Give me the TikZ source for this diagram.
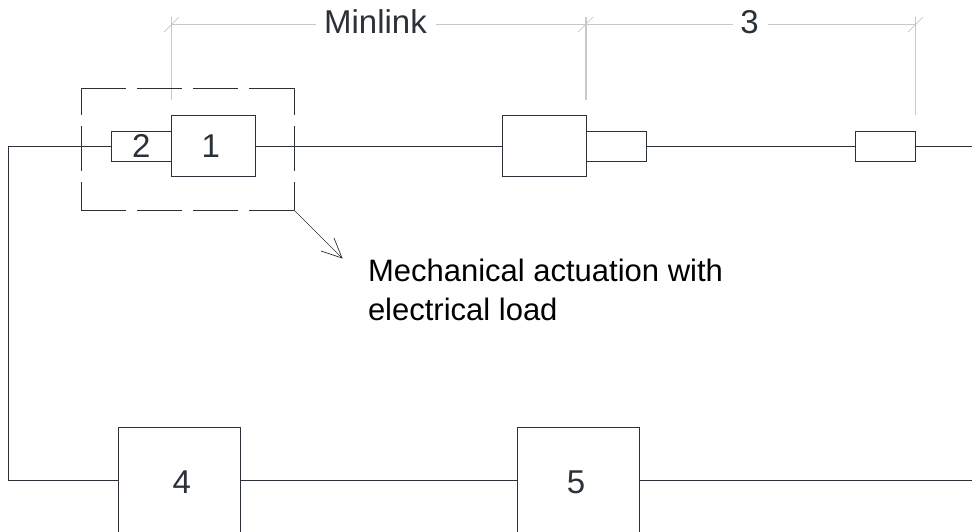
\documentclass[tikz,border=0pt]{standalone}
\usepackage{fontspec}
\setmainfont{Liberation Sans}
\definecolor{ink}{HTML}{2B3138}
\definecolor{dim}{HTML}{C8C8C8}
\tikzset{
  x=1pt,y=-1pt,
  box/.style={draw=ink,line width=1pt,fill=white,inner sep=0pt,outer sep=0pt,font=\fontsize{33}{38}\selectfont,text=ink},
  wire/.style={draw=ink,line width=1pt},
  dimline/.style={draw=dim,line width=1.1pt},
  lbl/.style={inner sep=0pt,outer sep=0pt,font=\fontsize{33}{38}\selectfont,text=ink},
  group/.style={draw=ink,line width=1pt,dash pattern=on 45pt off 11pt},
  groupv/.style={draw=ink,line width=1pt,dash pattern=on 45pt off 11pt,dash phase=18pt},
}
\begin{document}
\begin{tikzpicture}
\useasboundingbox (0,0) rectangle (972,531);
\clip (0,0) rectangle (972,531);
% named free ends
\coordinate (wireL) at (8.5,146);
\coordinate (wireLB) at (8.5,480.5);
\coordinate (outT) at (972,146);
\coordinate (outB) at (972,480.5);
\coordinate (d1) at (171.5,24.5);
\coordinate (d2) at (586,24.5);
\coordinate (d3) at (915.5,24.5);
\coordinate (m1) at (316,24.5);
\coordinate (m2) at (436,24.5);
\coordinate (t1) at (733,24.5);
\coordinate (t2) at (768,24.5);
\coordinate (e1) at (171.5,100);
\coordinate (e2) at (586,100);
\coordinate (e3) at (915.5,115);
\coordinate (gc) at (294,210);
\coordinate (at) at (342,258);
% dimension labels
\node[lbl,anchor=base] (minlink) at (375.5,33.5) {Minlink};
\node[lbl,anchor=base] (three) at (749.5,33.5) {3};
% dimension lines
\draw[dimline] (d1) -- (m1);
\draw[dimline] (m2) -- (d2);
\draw[dimline] (d2) -- (t1);
\draw[dimline] (t2) -- (d3);
\draw[dimline] (171.5,17) -- (e1);
\draw[dimline] (586,17) -- (e2);
\draw[dimline] (915.5,17) -- (e3);
\draw[dimline,line width=0.7pt] (164,32) -- (179,17);
\draw[dimline,line width=0.7pt] (578,32) -- (593,17);
\draw[dimline,line width=0.7pt] (908,32) -- (923,17);
% boxes
\node[box,minimum width=60.5pt,minimum height=30pt] (b2) at (141.25,146) {2};
\node[box,minimum width=83.5pt,minimum height=60.5pt] (b1) at (213.25,146) {\hspace{-5pt}1};
\node[box,minimum width=84pt,minimum height=60.5pt] (bm) at (544,146) {};
\node[box,minimum width=60pt,minimum height=30pt] (bn) at (616,146) {};
\node[box,minimum width=60.5pt,minimum height=30pt] (br) at (885.25,146) {};
\node[box,minimum width=121.5pt,minimum height=106pt] (b4) at (179.25,480.5) {\hspace{5pt}\raisebox{-2pt}[\height][0pt]{4}};
\node[box,minimum width=122pt,minimum height=106pt] (b5) at (578,480.5) {\hspace{-4pt}\raisebox{-2pt}[\height][0pt]{5}};
% wires
\draw[wire] (b2.west) -- (wireL) -- (wireLB) -- (b4.west);
\draw[wire] (b1.east) -- (bm.west);
\draw[wire] (bn.east) -- (br.west);
\draw[wire] (br.east) -- (outT);
\draw[wire] (b4.east) -- (b5.west);
\draw[wire] (b5.east) -- (outB);
% dashed group
\draw[group] (81,88) -- (294,88);
\draw[group] (81,210) -- (294,210);
\draw[groupv] (81,88) -- (81,210);
\draw[groupv] (294,88) -- (294,210);
% arrow
\draw[wire,line width=0.7pt] (gc) -- (at);
\draw[wire,line width=0.7pt] (334,238) -- (at) -- (321,251);
% note
\node[lbl,anchor=base west,align=left,text=black,font=\fontsize{31}{39}\selectfont] (note) at (368,320.5) {Mechanical actuation with\\electrical load};
\end{tikzpicture}
\end{document}
